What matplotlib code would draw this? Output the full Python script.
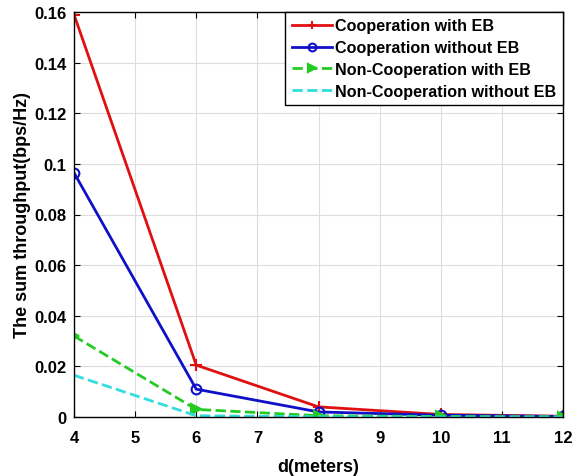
import matplotlib
matplotlib.use("Agg")
import matplotlib.pyplot as plt

d = [4, 6, 8, 10, 12]
coop_eb = [0.159, 0.0205, 0.004, 0.001, 0.0003]
coop_no_eb = [0.0965, 0.011, 0.002, 0.0007, 0.0002]
noncoop_eb = [0.032, 0.003, 0.0005, 0.0002, 0.0001]
noncoop_no_eb = [0.0165, 0.0005, 0.0001, 0.0, 0.0]
labels = ["Cooperation with EB", "Cooperation without EB",
          "Non-Cooperation with EB", "Non-Cooperation without EB"]

plt.rcParams['font.family'] = ['Liberation Sans', 'DejaVu Sans']
plt.rcParams['font.weight'] = 'bold'

fig = plt.figure(figsize=(5.76, 4.77), dpi=100)
ax = fig.add_axes([74/576, 1-418/477, (563-74)/576, (418-13)/477])

ax.plot(d, coop_eb, color='#e01010', lw=2, marker='+', ms=8, mew=1.5, label=labels[0])
ax.plot(d, coop_no_eb, color='#1010c8', lw=2, marker='o', ms=7, mfc='none', mew=1.5, label=labels[1])
ax.plot(d, noncoop_eb, color='#22cc22', lw=2, ls='--', marker='>', ms=7, mew=1.5, label=labels[2])
ax.plot(d, noncoop_no_eb, color='#33dddd', lw=2, ls='--', label=labels[3])

ax.set_xlim(4, 12)
ax.set_ylim(0, 0.16)
ax.set_xticks(range(4, 13))
ax.set_yticks([0, 0.02, 0.04, 0.06, 0.08, 0.1, 0.12, 0.14, 0.16])
ax.set_yticklabels(['0', '0.02', '0.04', '0.06', '0.08', '0.1', '0.12', '0.14', '0.16'])
ax.grid(True, color='#dddddd', lw=0.8)
ax.tick_params(direction='in', top=True, right=True, labelsize=12, length=4)
ax.tick_params(axis='x', pad=9.5)
ax.tick_params(axis='y', pad=5.5)
for lab in ax.get_xticklabels() + ax.get_yticklabels():
    lab.set_fontweight('bold')
ax.set_xlabel('d(meters)', fontsize=13, fontweight='bold', labelpad=9)
ax.set_ylabel('The sum throughput(bps/Hz)', fontsize=13, fontweight='bold', labelpad=2)
for s in ax.spines.values():
    s.set_linewidth(1.0)

leg = ax.legend(loc='upper right', borderaxespad=0, fancybox=False, framealpha=1,
                edgecolor='black', prop={'size': 11.6, 'weight': 'bold'},
                handlelength=2.5, handletextpad=0.2, labelspacing=0.42, borderpad=0.4,
                markerscale=0.8)
leg.get_frame().set_linewidth(1.0)

fig.savefig('out.png', dpi=100)
